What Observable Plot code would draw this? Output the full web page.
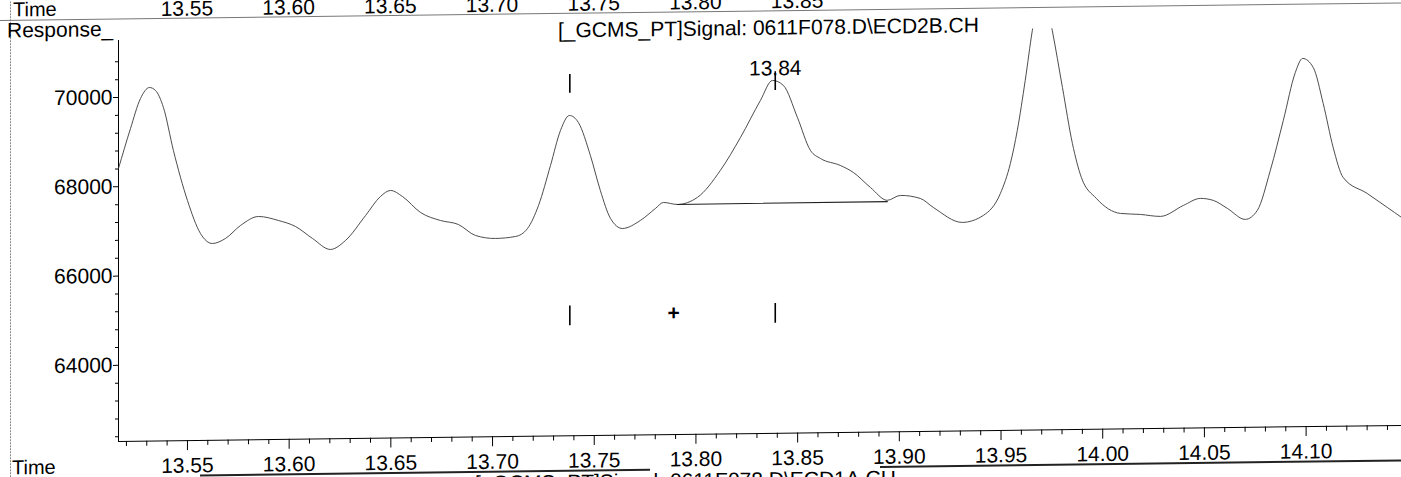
<!DOCTYPE html>
<html><head><meta charset="utf-8">
<script src="https://cdn.jsdelivr.net/npm/d3@7"></script>
<script src="https://cdn.jsdelivr.net/npm/@observablehq/plot@0.6"></script>
<style>
html,body{margin:0;padding:0;background:#fff;overflow:hidden;}
#page{position:relative;width:1401px;height:477px;transform:skewY(-0.72deg);transform-origin:118px 0px;}
#page svg{position:absolute;left:0;top:0;}
</style></head><body><div id="page"></div>
<script>
// ---- data (retention time in min, detector response) ----
const times = [13.5161,13.5220,13.5269,13.5313,13.5343,13.5382,13.5431,13.5500,13.5564,13.5623,13.5687,13.5761,13.5849,13.5947,13.6031,13.6115,13.6203,13.6277,13.6376,13.6449,13.6498,13.6557,13.6646,13.6744,13.6832,13.6916,13.7014,13.7113,13.7172,13.7226,13.7285,13.7334,13.7378,13.7422,13.7481,13.7530,13.7580,13.7639,13.7727,13.7801,13.7840,13.7909,13.8007,13.8120,13.8219,13.8317,13.8376,13.8430,13.8499,13.8563,13.8612,13.8710,13.8774,13.8858,13.8941,13.9005,13.9103,13.9167,13.9310,13.9413,13.9497,13.9546,13.9580,13.9619,13.9654,13.9703,13.9752,13.9802,13.9851,13.9895,13.9969,14.0087,14.0185,14.0284,14.0397,14.0480,14.0544,14.0613,14.0701,14.0760,14.0824,14.0888,14.0947,14.0983,14.1035,14.1084,14.1133,14.1182,14.1300,14.1399,14.1469];
const responses = [68410,69302,69971,70215,70146,69763,68797,67674,66931,66703,66812,67099,67295,67200,67061,66787,66536,66733,67288,67709,67841,67703,67339,67154,67060,66809,66736,66775,66951,67463,68356,69137,69470,69311,68569,67782,67152,66924,67099,67363,67495,67447,67598,68196,68930,69753,70198,70083,69362,68619,68437,68275,68114,67773,67480,67586,67513,67308,66964,67115,67603,68272,69009,70127,71245,72300,71239,69959,68702,67938,67463,67121,67093,67043,67283,67435,67386,67203,66952,67150,68042,69159,70230,70542,70337,69528,68540,67865,67500,67181,66953];

// integration baseline of the labelled peak
const baselineTimes = [13.7909, 13.8941];
const baselineResponses = [67447, 67450];

// peak markers
const peakTimes = [13.738, 13.839];
const peakLabel = "13.84";
const peakLabelResponse = 70314;
const upperMarkRange = [69970, 70390];
const lowerMarkRange = [64760, 65200];
const plusTime = 13.789;
const plusResponse = 65010;

// axes
const xTicks = [13.55,13.60,13.65,13.70,13.75,13.80,13.85,13.90,13.95,14.00,14.05,14.10];
const xTickLabels = ["13.55","13.60","13.65","13.70","13.75","13.80","13.85","13.90","13.95","14.00","14.05","14.10"];
const topStripTicks = [13.55,13.60,13.65,13.70,13.75,13.80,13.85];
const topStripLabels = ["13.55","13.60","13.65","13.70","13.75","13.80","13.85"];
const yTicks = [64000, 66000, 68000, 70000];
const yTickLabels = ["64000", "66000", "68000", "70000"];

const titleText = "[_GCMS_PT]Signal: 0611F078.D\\ECD2B.CH";
const nextTitleText = "[_GCMS_PT]Signal: 0611F078.D\\ECD1A.CH";

const xDomain = [13.5161, 14.1469];
const yDomain = [62294, 71277];

const FONT = "'Liberation Sans', Arial, sans-serif";

const data = times.map((t, i) => ({t, v: responses[i]}));
const baseData = baselineTimes.map((t, i) => ({t, v: baselineResponses[i]}));
const xMinor = d3.range(13.52, 14.145, 0.01).map(d => +d.toFixed(2)).filter(d => !xTicks.some(m => Math.abs(m - d) < 1e-6));
const yMinor = d3.range(62400, 71200, 400).filter(d => !yTicks.includes(d));

const chart = Plot.plot({
  width: 1401, height: 477,
  marginLeft: 118, marginRight: 0, marginTop: 40, marginBottom: 36,
  style: {fontFamily: FONT, fontSize: "21px", color: "#000", background: "transparent", overflow: "visible"},
  x: {domain: xDomain, label: null, axis: null},
  y: {domain: yDomain, label: null, axis: null},
  marks: [
    Plot.axisX({ticks: xMinor, tickSize: 5, tickFormat: () => "", label: null, stroke: "#000"}),
    Plot.axisX({ticks: xTicks, tickSize: 10, tickPadding: 7, label: null, stroke: "#000",
      tickFormat: d => xTickLabels[xTicks.indexOf(d)]}),
    Plot.axisY({ticks: yMinor, tickSize: 3, tickFormat: () => "", label: null, stroke: "#000"}),
    Plot.axisY({ticks: yTicks, tickSize: 5, tickPadding: 1, label: null, stroke: "#000",
      tickFormat: d => yTickLabels[yTicks.indexOf(d)]}),
    Plot.ruleY([yDomain[0]], {stroke: "#000", strokeWidth: 1}),
    Plot.ruleX([xDomain[0]], {stroke: "#000", strokeWidth: 1}),
    Plot.line(data, {x: "t", y: "v", stroke: "#3a3a3a", strokeWidth: 0.9, curve: "monotone-x", clip: true}),
    Plot.line(baseData, {x: "t", y: "v", stroke: "#222", strokeWidth: 1.1}),
    Plot.ruleX(peakTimes, {y1: upperMarkRange[0], y2: upperMarkRange[1], stroke: "#000", strokeWidth: 1.6}),
    Plot.ruleX(peakTimes, {y1: lowerMarkRange[0], y2: lowerMarkRange[1], stroke: "#000", strokeWidth: 1.6}),
    Plot.text([plusTime], {x: d => d, y: plusResponse, text: () => "+", fontSize: 21, fontWeight: "bold", fill: "#000"}),
    Plot.text([peakLabel], {x: peakTimes[1], y: peakLabelResponse, text: d => d, lineAnchor: "bottom", fontSize: 21, fill: "#000"})
  ]
});

const page = document.getElementById("page");
page.appendChild(chart);

// ---- page furniture (frame lines, cut-off neighbouring chromatogram texts) ----
const sx = chart.scale("x");
const ov = d3.select(page).append("svg")
  .attr("width", 1401).attr("height", 520)
  .style("font-family", FONT).style("font-size", "21px");

ov.append("line").attr("x1", 10.5).attr("x2", 10.5).attr("y1", 0).attr("y2", 520)
  .attr("stroke", "#8a8a8a").attr("stroke-dasharray", "2 1");
ov.append("line").attr("x1", 0).attr("x2", 1401).attr("y1", 19).attr("y2", 19)
  .attr("stroke", "#777").attr("stroke-width", 1);
ov.append("text").attr("x", 13).attr("y", 15).style("font-size", "20px").text("Time");
ov.selectAll("text.top").data(topStripTicks).join("text").attr("class", "top")
  .attr("x", d => sx.apply(d)).attr("y", 16.5).attr("text-anchor", "middle")
  .text((d, i) => topStripLabels[i]);
ov.append("text").attr("x", 558).attr("y", 43).text(titleText);
ov.append("text").attr("x", 7).attr("y", 36).text("Response_");
ov.append("text").attr("x", 12).attr("y", 473).style("font-size", "20px").text("Time");
ov.append("line").attr("x1", 200).attr("x2", 650).attr("y1", 476.5).attr("y2", 476.5)
  .attr("stroke", "#222").attr("stroke-width", 2);
ov.append("line").attr("x1", 880).attr("x2", 1401).attr("y1", 476.5).attr("y2", 476.5)
  .attr("stroke", "#222").attr("stroke-width", 2);
ov.append("text").attr("x", 475).attr("y", 495).text(nextTitleText);
</script>
</body></html>
